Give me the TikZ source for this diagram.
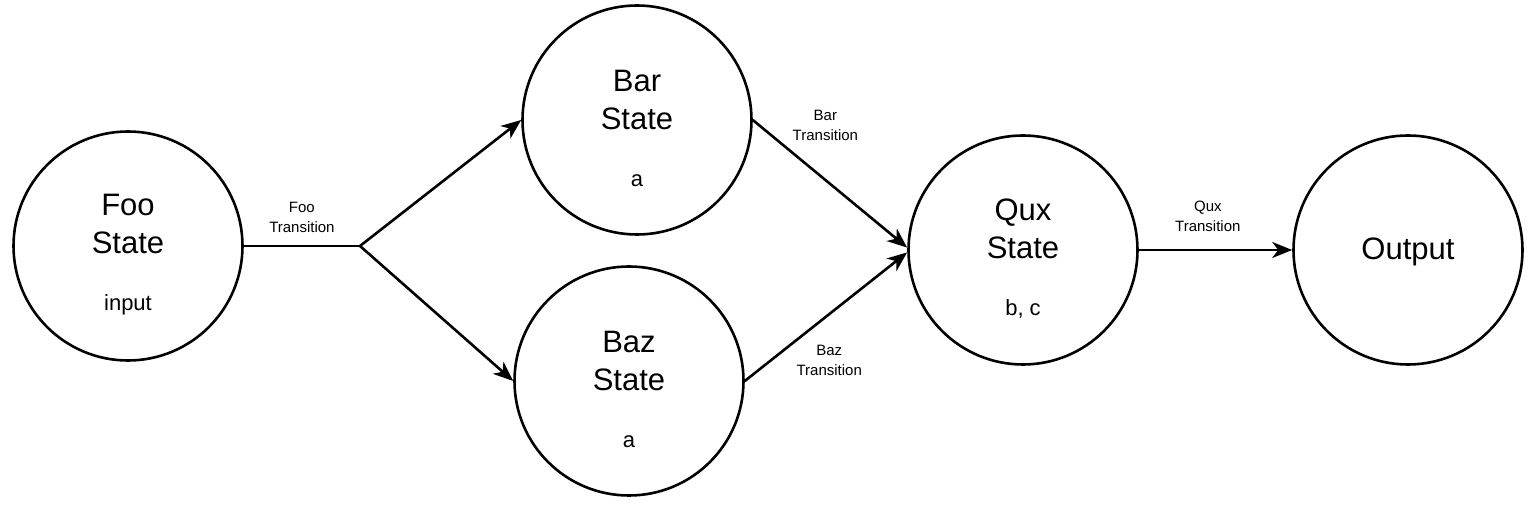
\documentclass[tikz,border=0pt]{standalone}
\usepackage{fontspec}
\setmainfont{Liberation Sans}
\usetikzlibrary{arrows.meta, positioning}
\newcommand{\statevar}{\fontsize{11}{13}\selectfont}
\newcommand{\statetop}{\rule{0pt}{19pt}}

\begin{document}
\begin{tikzpicture}[x=0.5pt,y=-0.5pt,
		state/.style={draw,circle,line width=1.3pt,minimum size=114.5pt,inner sep=0pt,align=center,font=\fontsize{15.5}{19}\selectfont},
		trans/.style={align=center,inner sep=0pt,font=\fontsize{7.5}{10}\selectfont},
		flow/.style={line width=1.3pt,-{Stealth[length=10pt,width=8pt,inset=3pt]}}]
			% page
			\fill[white] (0,0) rectangle (1539,507);
			% states
			\node[state] (foo) at (128,246) {\statetop Foo\\State\\[9.5pt]{\statevar input}};
			\node[state] (bar) at (637,120) {\statetop Bar\\State\\[9.5pt]{\statevar a}};
			\node[state] (baz) at (629,381) {\statetop Baz\\State\\[9.5pt]{\statevar a}};
			\node[state] (qux) at (1023,250) {\statetop Qux\\State\\[9.5pt]{\statevar b, c}};
			\node[state] (out) at (1408,250) {\rule{0pt}{13pt}Output};
			% fork after foo
			\coordinate (split) at (360,246);
			\draw[line width=1.3pt] (foo) -- node[trans,above=6pt] {Foo\\Transition} (split);
			\draw[flow] (split) -- (bar.west);
			\draw[flow] (split) -- (baz.west);
			% join into qux
			\draw[flow] (bar.east) -- node[trans,pos=0.47,above=19pt] {Bar\\Transition} ([yshift=1.2pt]qux.west);
			\draw[flow] (baz.east) -- node[trans,pos=0.52,below=15pt] {Baz\\Transition} ([yshift=-1.2pt]qux.west);
			\draw[flow] (qux) -- node[trans,pos=0.45,above=8.5pt] {Qux\\Transition} (out);
		\end{tikzpicture}
\end{document}
